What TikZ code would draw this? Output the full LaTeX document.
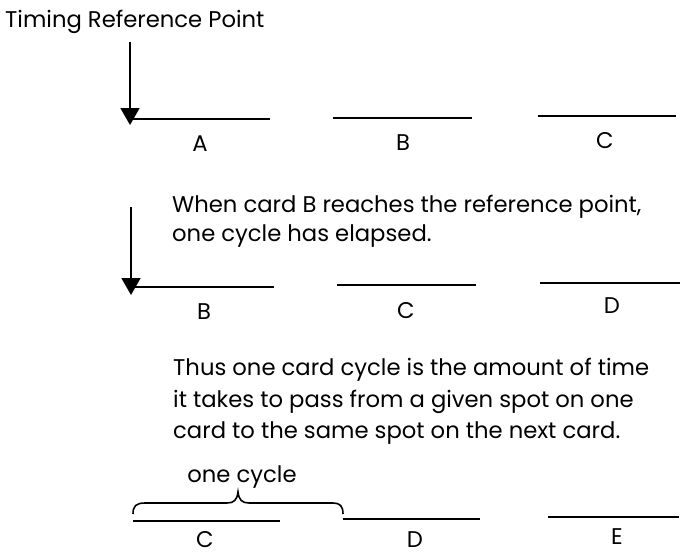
\documentclass[tikz,border=0pt]{standalone}
\usepackage{fontspec}
\setmainfont{Poppins}
\usetikzlibrary{arrows.meta}
\begin{document}
\begin{tikzpicture}[x=1pt,y=-1pt,
  card/.style={line width=2pt},
  txt/.style={font=\fontsize{22.7}{27}\selectfont, inner sep=0pt, anchor=base},
  para/.style={txt, anchor=base west},
  pointer/.style={line width=1.8pt, -{Triangle[length=17pt,width=19pt]}}]
\useasboundingbox (0,0) rectangle (681,555);

% heading
\node[para] (title) at (5,27) {Timing Reference Point};

% first row of cards
\coordinate (r1top) at (130,42);
\coordinate (a0) at (130,119); \coordinate (a1) at (270,119);
\coordinate (b0) at (333,118); \coordinate (b1) at (472,118);
\coordinate (c0) at (538,116); \coordinate (c1) at (676,116);
\draw[card] (a0) -- (a1);
\draw[card] (b0) -- (b1);
\draw[card] (c0) -- (c1);
\draw[pointer] (r1top) -- ([yshift=-6pt]a0);
\node[txt] (la) at (200,151) {A};
\node[txt] (lb) at (403,150) {B};
\node[txt] (lc) at (605,148) {C};

\node[para] (t1a) at (172,212) {When card B reaches the reference point,};
\node[para] (t1b) at (172,241) {one cycle has elapsed.};

% second row of cards
\coordinate (r2top) at (131,207);
\coordinate (d0) at (131,287); \coordinate (d1) at (274,287);
\coordinate (e0) at (337,285); \coordinate (e1) at (476,285);
\coordinate (f0) at (540,283); \coordinate (f1) at (680,283);
\draw[card] (d0) -- (d1);
\draw[card] (e0) -- (e1);
\draw[card] (f0) -- (f1);
\draw[pointer] (r2top) -- ([yshift=-8pt]d0);
\node[txt] (lb2) at (204,319) {B};
\node[txt] (lc2) at (406,318) {C};
\node[txt] (ld2) at (612,313) {D};

\node[para] (t2a) at (173,375) {Thus one card cycle is the amount of time};
\node[para] (t2b) at (173,407) {it takes to pass from a given spot on one};
\node[para] (t2c) at (173,438) {card to the same spot on the next card.};

% third row of cards with the cycle brace
\coordinate (g0) at (133,521); \coordinate (g1) at (280,521);
\coordinate (h0) at (343,519); \coordinate (h1) at (480,519);
\coordinate (k0) at (548,517); \coordinate (k1) at (679,517);
\draw[card] (g0) -- (g1);
\draw[card] (h0) -- (h1);
\draw[card] (k0) -- (k1);
\node[txt] (cyc) at (242,482) {one cycle};
\draw[line width=1.6pt]
  (133,514) .. controls (133,506) and (136,503) .. (145,503)
  -- (227,503) .. controls (234,503) and (237,500) .. (238,492)
  .. controls (239,500) and (242,503) .. (249,503)
  -- (333,503) .. controls (340,503) and (343,506) .. (343,514);
\node[txt] (lc3) at (205,547) {C};
\node[txt] (ld3) at (415,547) {D};
\node[txt] (le3) at (617,544) {E};
\end{tikzpicture}
\end{document}
